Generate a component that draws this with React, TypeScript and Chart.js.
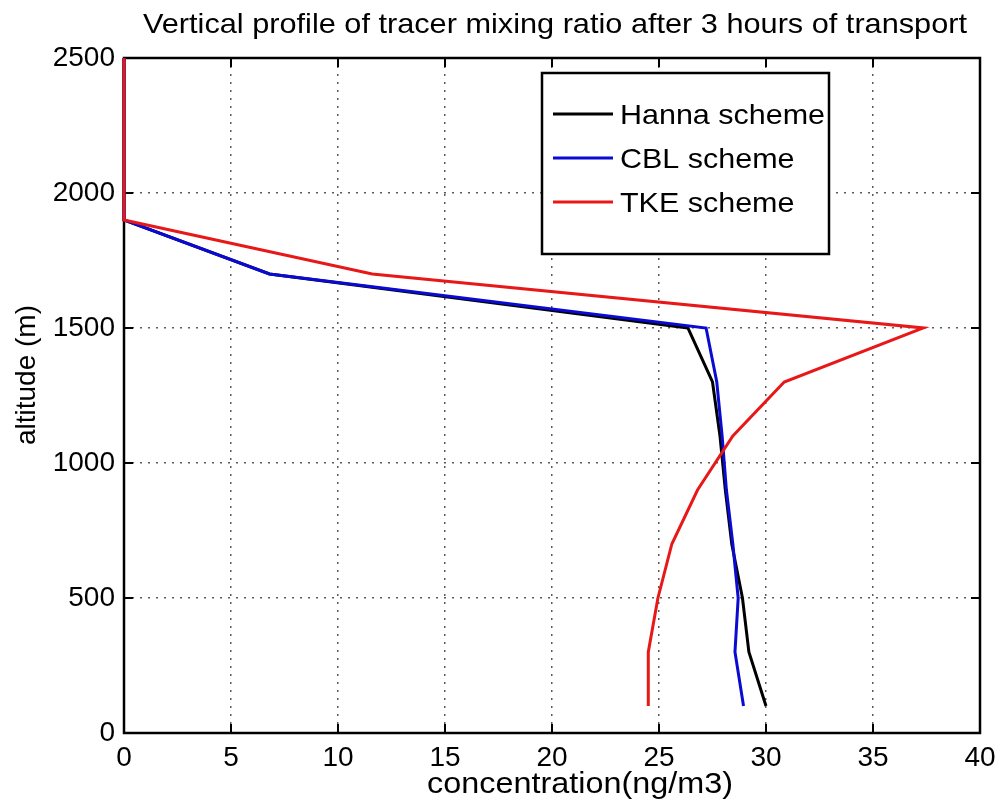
import React, { useEffect, useRef } from "react";
import { Chart, registerables } from "chart.js";

Chart.register(...registerables);

const altitudes = [100, 300, 500, 700, 900, 1100, 1300, 1500, 1700, 1900, 2100, 2300, 2500];
const hannaValues = [30.0, 29.2, 28.9, 28.4, 28.1, 27.85, 27.5, 26.35, 6.8, 0, 0, 0, 0];
const cblValues = [28.95, 28.55, 28.7, 28.45, 28.15, 27.95, 27.7, 27.2, 6.8, 0, 0, 0, 0];
const tkeValues = [24.5, 24.5, 24.95, 25.6, 26.8, 28.45, 30.85, 37.35, 11.6, 0, 0, 0, 0];
const seriesNames = ["Hanna scheme", "CBL scheme", "TKE scheme"];
const seriesColors = ["#000000", "#0a0ad2", "#e81818"];
const xTicks = [0, 5, 10, 15, 20, 25, 30, 35, 40];
const yTicks = [0, 500, 1000, 1500, 2000, 2500];
const titleText = "Vertical profile of tracer mixing ratio after 3 hours of transport";
const xLabel = "concentration(ng/m3)";
const yLabel = "altitude (m)";

const FONT = '"Liberation Sans", Arial, Helvetica, sans-serif';

function drawStretched(
  ctx: CanvasRenderingContext2D,
  text: string,
  x: number,
  y: number,
  size: number,
  targetWidth: number,
  align: CanvasTextAlign
) {
  ctx.font = `${size}px ${FONT}`;
  const w = ctx.measureText(text).width;
  const s = targetWidth / w;
  ctx.save();
  ctx.translate(x, y);
  ctx.scale(s, 1);
  ctx.textAlign = align;
  ctx.textBaseline = "alphabetic";
  ctx.fillText(text, 0, 0);
  ctx.restore();
}

const framePlugin = {
  id: "matlabFrame",
  beforeDatasetsDraw(chart: any) {
    const { ctx, chartArea: a, scales } = chart;
    ctx.save();
    ctx.strokeStyle = "#000";
    ctx.lineWidth = 2;
    const L = 9;
    ctx.beginPath();
    xTicks.forEach((v) => {
      const x = scales.x.getPixelForValue(v);
      ctx.moveTo(x, a.bottom);
      ctx.lineTo(x, a.bottom - L);
      ctx.moveTo(x, a.top);
      ctx.lineTo(x, a.top + L);
    });
    yTicks.forEach((v) => {
      const y = scales.y.getPixelForValue(v);
      ctx.moveTo(a.left, y);
      ctx.lineTo(a.left + L, y);
      ctx.moveTo(a.right, y);
      ctx.lineTo(a.right - L, y);
    });
    ctx.stroke();
    ctx.lineWidth = 2.5;
    ctx.strokeRect(a.left, a.top, a.right - a.left, a.bottom - a.top);
    ctx.restore();
  },
  afterDraw(chart: any) {
    const { ctx } = chart;
    ctx.save();
    ctx.fillStyle = "#000";
    // title
    drawStretched(ctx, titleText, 555, 33, 28, 824, "center");
    // x label
    drawStretched(ctx, xLabel, 580, 793, 30, 306, "center");
    // y label
    ctx.save();
    ctx.translate(35, 375);
    ctx.rotate(-Math.PI / 2);
    ctx.font = `28px ${FONT}`;
    ctx.textAlign = "center";
    ctx.textBaseline = "alphabetic";
    ctx.fillText(yLabel, 0, 0);
    ctx.restore();

    // legend
    const bx = 542, by = 73, bw = 287, bh = 181;
    ctx.fillStyle = "#fff";
    ctx.fillRect(bx, by, bw, bh);
    ctx.strokeStyle = "#000";
    ctx.lineWidth = 2.5;
    ctx.strokeRect(bx, by, bw, bh);
    ctx.font = `28px ${FONT}`;
    const s = 205 / ctx.measureText(seriesNames[0]).width;
    const rows = [114, 158, 202];
    seriesNames.forEach((name, i) => {
      const y = rows[i];
      ctx.strokeStyle = seriesColors[i];
      ctx.lineWidth = 3;
      ctx.beginPath();
      ctx.moveTo(553, y);
      ctx.lineTo(613, y);
      ctx.stroke();
      ctx.save();
      ctx.translate(620, y + 10);
      ctx.scale(s, 1);
      ctx.fillStyle = "#000";
      ctx.textAlign = "left";
      ctx.textBaseline = "alphabetic";
      ctx.fillText(name, 0, 0);
      ctx.restore();
    });
    ctx.restore();
  },
};

export default function App() {
  const canvasRef = useRef<HTMLCanvasElement | null>(null);

  useEffect(() => {
    document.body.style.margin = "0";
    const canvas = canvasRef.current;
    if (!canvas) return;
    const seriesValues = [hannaValues, cblValues, tkeValues];
    const orders = [2, 1, 0];
    const chart = new Chart(canvas, {
      type: "scatter",
      data: {
        datasets: seriesNames.map((name, i) => ({
          label: name,
          data: altitudes.map((alt, j) => ({ x: seriesValues[i][j], y: alt })),
          showLine: true,
          borderColor: seriesColors[i],
          backgroundColor: seriesColors[i],
          borderWidth: 3,
          pointRadius: 0,
          pointHoverRadius: 0,
          tension: 0,
          clip: 6,
          order: orders[i],
        })),
      },
      options: {
        responsive: false,
        animation: false,
        devicePixelRatio: 1,
        layout: { padding: { top: 58, right: 20, left: 0, bottom: 0 } },
        plugins: {
          legend: { display: false },
          title: { display: false },
          tooltip: { enabled: false },
        },
        scales: {
          x: {
            type: "linear",
            min: 0,
            max: 40,
            afterFit: (scale: any) => {
              scale.height = 71;
              scale.paddingLeft = 0;
              scale.paddingRight = 0;
            },
            afterBuildTicks: (scale: any) => {
              scale.ticks = xTicks.map((v) => ({ value: v }));
            },
            ticks: {
              color: "#000",
              font: { family: FONT, size: 28 },
              padding: 8,
              maxRotation: 0,
              callback: (v: any) => String(v),
            },
            grid: {
              color: "#5a5a5a",
              lineWidth: 1.5,
              drawTicks: false,
            },
            border: { display: false, dash: [2, 6] },
          },
          y: {
            type: "linear",
            min: 0,
            max: 2500,
            afterFit: (scale: any) => {
              scale.width = 124;
              scale.paddingTop = 0;
              scale.paddingBottom = 0;
            },
            afterBuildTicks: (scale: any) => {
              scale.ticks = yTicks.map((v) => ({ value: v }));
            },
            ticks: {
              color: "#000",
              font: { family: FONT, size: 28 },
              padding: 9,
              callback: (v: any) => String(v),
            },
            grid: {
              color: "#5a5a5a",
              lineWidth: 1.5,
              drawTicks: false,
            },
            border: { display: false, dash: [2, 6] },
          },
        },
      },
      plugins: [framePlugin],
    } as any);
    return () => chart.destroy();
  }, []);

  return (
    <div style={{ width: 1000, height: 804, background: "#fff" }}>
      <canvas ref={canvasRef} width={1000} height={804} />
    </div>
  );
}
